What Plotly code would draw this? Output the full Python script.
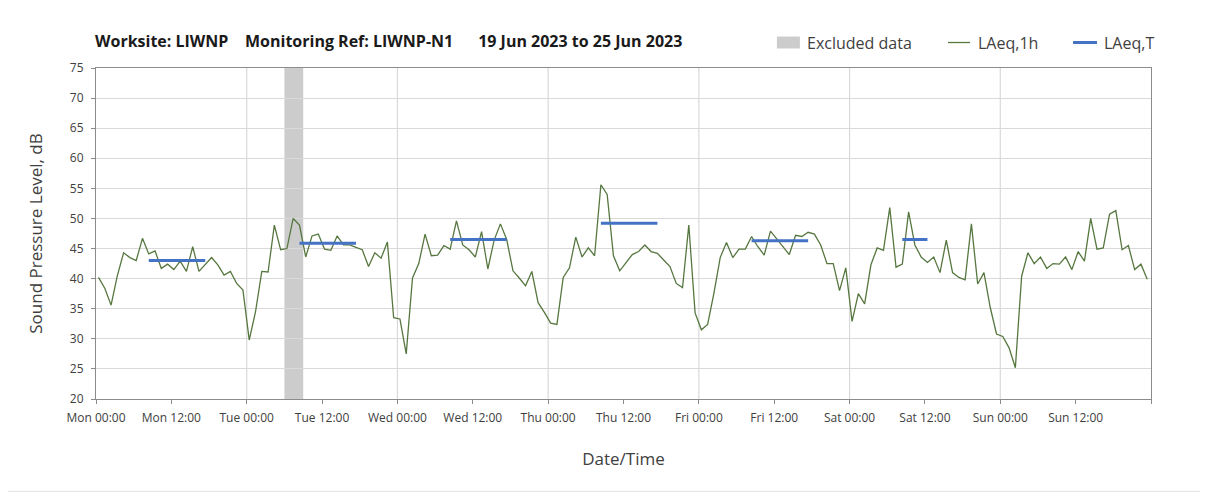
import pandas as pd
import plotly.graph_objects as go

# hourly LAeq,1h readings, Mon 19 Jun 2023 00:00 -> Sun 25 Jun 2023 23:00
laeq_1h = [
    40.2, 38.4, 35.6, 40.5, 44.3, 43.5, 43.0, 46.7, 44.1, 44.6, 41.7, 42.4,
    41.5, 42.9, 41.2, 45.3, 41.2, 42.4, 43.5, 42.3, 40.6, 41.2, 39.2, 38.1,
    29.8, 34.5, 41.2, 41.1, 48.9, 44.8, 45.0, 50.0, 48.9, 43.6, 47.1, 47.4,
    44.9, 44.7, 47.1, 45.6, 45.6, 45.2, 44.8, 42.0, 44.3, 43.4, 46.1, 33.5,
    33.3, 27.5, 40.1, 42.5, 47.4, 43.8, 43.9, 45.5, 44.9, 49.6, 45.6, 44.8,
    43.6, 47.8, 41.6, 46.4, 49.1, 46.5, 41.3, 40.1, 38.8, 41.2, 36.0, 34.4,
    32.6, 32.4, 40.2, 41.8, 46.9, 43.6, 45.1, 43.8, 55.6, 54.0, 43.8, 41.3,
    42.7, 44.0, 44.5, 45.6, 44.5, 44.2, 43.1, 42.0, 39.2, 38.5, 48.9, 34.3,
    31.5, 32.4, 37.6, 43.5, 46.0, 43.5, 44.9, 44.9, 47.0, 45.3, 43.9, 47.9,
    46.6, 45.3, 44.0, 47.2, 47.0, 47.7, 47.4, 45.6, 42.5, 42.5, 38.0, 41.8,
    32.9, 37.5, 35.8, 42.3, 45.1, 44.7, 51.8, 41.9, 42.4, 51.1, 45.6, 43.6,
    42.7, 43.6, 41.0, 46.4, 41.0, 40.2, 39.8, 49.1, 39.1, 41.0, 35.2, 30.8,
    30.4, 28.5, 25.2, 40.4, 44.3, 42.5, 43.6, 41.7, 42.5, 42.4, 43.6, 41.5,
    44.5, 42.9, 50.0, 44.9, 45.1, 50.7, 51.3, 44.8, 45.5, 41.5, 42.4, 39.9,
]
hour_times = pd.date_range("2023-06-19 00:24", periods=len(laeq_1h), freq="h")

# LAeq,T over the daytime periods
period_start = ["2023-06-19 08:24", "2023-06-20 08:24", "2023-06-21 08:24",
                "2023-06-22 08:24", "2023-06-23 08:24", "2023-06-24 08:24"]
period_end = ["2023-06-19 17:24", "2023-06-20 17:24", "2023-06-21 17:24",
              "2023-06-22 17:24", "2023-06-23 17:24", "2023-06-24 12:24"]
period_value = [43.0, 45.9, 46.5, 49.2, 46.3, 46.5]

excluded_start = "2023-06-20 06:00"
excluded_end = "2023-06-20 09:00"

tick_times = pd.date_range("2023-06-19 00:00", "2023-06-26 00:00", freq="12h")
tick_labels = ["Mon 00:00", "Mon 12:00", "Tue 00:00", "Tue 12:00", "Wed 00:00",
               "Wed 12:00", "Thu 00:00", "Thu 12:00", "Fri 00:00", "Fri 12:00",
               "Sat 00:00", "Sat 12:00", "Sun 00:00", "Sun 12:00", ""]
day_lines = pd.date_range("2023-06-20", "2023-06-25", freq="D")

GREEN = "#56773f"
BLUE = "#4472c4"
GREY_BAND = "#cccccc"
TEXT = "#404040"
FONT = "Open Sans"

fig = go.Figure()

fig.add_trace(go.Scatter(
    x=hour_times, y=laeq_1h, mode="lines", name="LAeq,1h",
    line=dict(color=GREEN, width=1.3), showlegend=False,
))
for s, e, v in zip(period_start, period_end, period_value):
    fig.add_trace(go.Scatter(
        x=[s, e], y=[v, v], mode="lines", name="LAeq,T",
        line=dict(color=BLUE, width=3), showlegend=False,
    ))

fig.add_shape(type="rect", xref="x", yref="paper", x0=excluded_start, x1=excluded_end,
              y0=0, y1=1, fillcolor=GREY_BAND, line_width=0, layer="between")
for d in day_lines:
    fig.add_shape(type="line", xref="x", yref="paper", x0=d, x1=d, y0=0, y1=1,
                  line=dict(color="#d9d9d9", width=1.2), layer="below")

# faint frame around the whole chart
fig.add_shape(type="rect", xref="paper", yref="paper", x0=-0.086, x1=1.049,
              y0=-0.279, y1=1.197, line=dict(color="#e3e3e3", width=1), layer="below")

# title
fig.add_annotation(
    text="Worksite: LIWNP    Monitoring Ref: LIWNP-N1      19 Jun 2023 to 25 Jun 2023",
    xref="paper", yref="paper", x=-0.003, y=1.083, xanchor="left", yanchor="middle",
    showarrow=False, font=dict(family=FONT, size=16, color="#1a1a1a", weight="bold"),
)

# legend, drawn by hand to keep Excel's spacing
legend_font = dict(family=FONT, size=16, color=TEXT)
fig.add_shape(type="rect", xref="paper", yref="paper", x0=0.6454, x1=0.6672,
              y0=1.059, y1=1.095, fillcolor=GREY_BAND, line_width=0)
fig.add_annotation(text="Excluded data", xref="paper", yref="paper", x=0.6721, y=1.077,
                   xanchor="left", yanchor="middle", showarrow=False, font=legend_font)
fig.add_shape(type="line", xref="paper", yref="paper", x0=0.8076, x1=0.8285,
              y0=1.077, y1=1.077, line=dict(color=GREEN, width=1.3))
fig.add_annotation(text="LAeq,1h", xref="paper", yref="paper", x=0.8341, y=1.077,
                   xanchor="left", yanchor="middle", showarrow=False, font=legend_font)
fig.add_shape(type="line", xref="paper", yref="paper", x0=0.9261, x1=0.9488,
              y0=1.077, y1=1.077, line=dict(color=BLUE, width=3))
fig.add_annotation(text="LAeq,T", xref="paper", yref="paper", x=0.9536, y=1.077,
                   xanchor="left", yanchor="middle", showarrow=False, font=legend_font)

fig.update_layout(
    width=1200, height=486,
    margin=dict(l=88, r=57, t=60, b=95),
    paper_bgcolor="white", plot_bgcolor="white",
    font=dict(family=FONT, size=12, color=TEXT),
    showlegend=False,
    xaxis=dict(
        type="date",
        range=["2023-06-19 00:00", "2023-06-26 00:00"],
        tickvals=tick_times, ticktext=tick_labels,
        showgrid=False, zeroline=False,
        showline=True, linecolor="#8c8c8c", linewidth=1, mirror=True,
        ticks="outside", ticklen=4, tickcolor="#8c8c8c", ticklabelstandoff=4,
        tickfont=dict(size=12, color=TEXT),
        title=dict(text="Date/Time", font=dict(size=17, color=TEXT), standoff=27),
    ),
    yaxis=dict(
        range=[20, 75], dtick=5, tick0=20,
        showgrid=True, gridcolor="#d9d9d9", gridwidth=1.2, zeroline=False,
        showline=True, linecolor="#8c8c8c", linewidth=1, mirror=True,
        ticks="outside", ticklen=4, tickcolor="#8c8c8c", ticklabelstandoff=5,
        tickfont=dict(size=12, color=TEXT),
        title=dict(text="Sound Pressure Level, dB", font=dict(size=17, color=TEXT), standoff=22),
    ),
)

fig.write_html("out.html")
